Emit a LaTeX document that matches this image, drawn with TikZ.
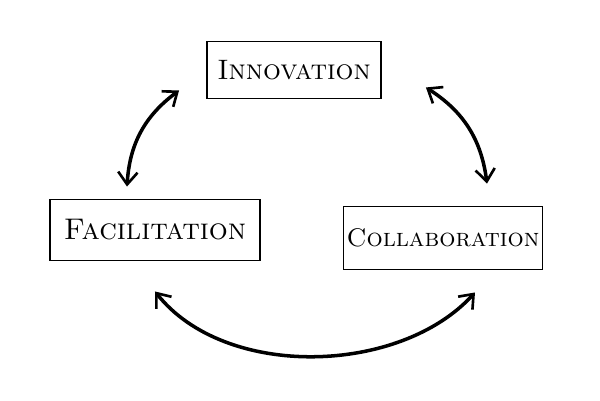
\documentclass[tikz,border=0pt]{standalone}
\usetikzlibrary{arrows.meta,calc}
\begin{document}
\begin{tikzpicture}[x=0.02cm,y=-0.02cm,
  box/.style={draw,line width=1.1pt,inner sep=0pt,font=\scshape},
  arr/.style={line width=2pt,{Straight Barb[length=7pt,width=11pt,line width=1.5pt]}-{Straight Barb[length=7pt,width=11pt,line width=1.5pt]}}]
\useasboundingbox (0,0) rectangle (600,400);
\node[box,minimum width=3.48cm,minimum height=1.14cm] (inn) at (294,70) {\fontsize{16}{19}\selectfont Innovation};
\node[box,minimum width=4.2cm,minimum height=1.22cm] (fac) at (155,230) {\fontsize{17}{20}\selectfont Facilitation};
\node[box,minimum width=3.98cm,minimum height=1.26cm] (col) at (443,238) {\fontsize{14.5}{17}\selectfont Collaboration};
\draw[arr] ($(fac.north)+(-28,-12)$) to[bend left=25] ($(inn.south west)+(-27,-9)$);
\draw[arr] ($(inn.south east)+(44,-12)$) to[bend left=25] ($(col.north)+(44,-22)$);
\draw[arr] ($(fac.south)+(0,30)$) .. controls (225,380) and (400,375) .. ($(col.south)+(32,22)$);
\end{tikzpicture}
\end{document}
